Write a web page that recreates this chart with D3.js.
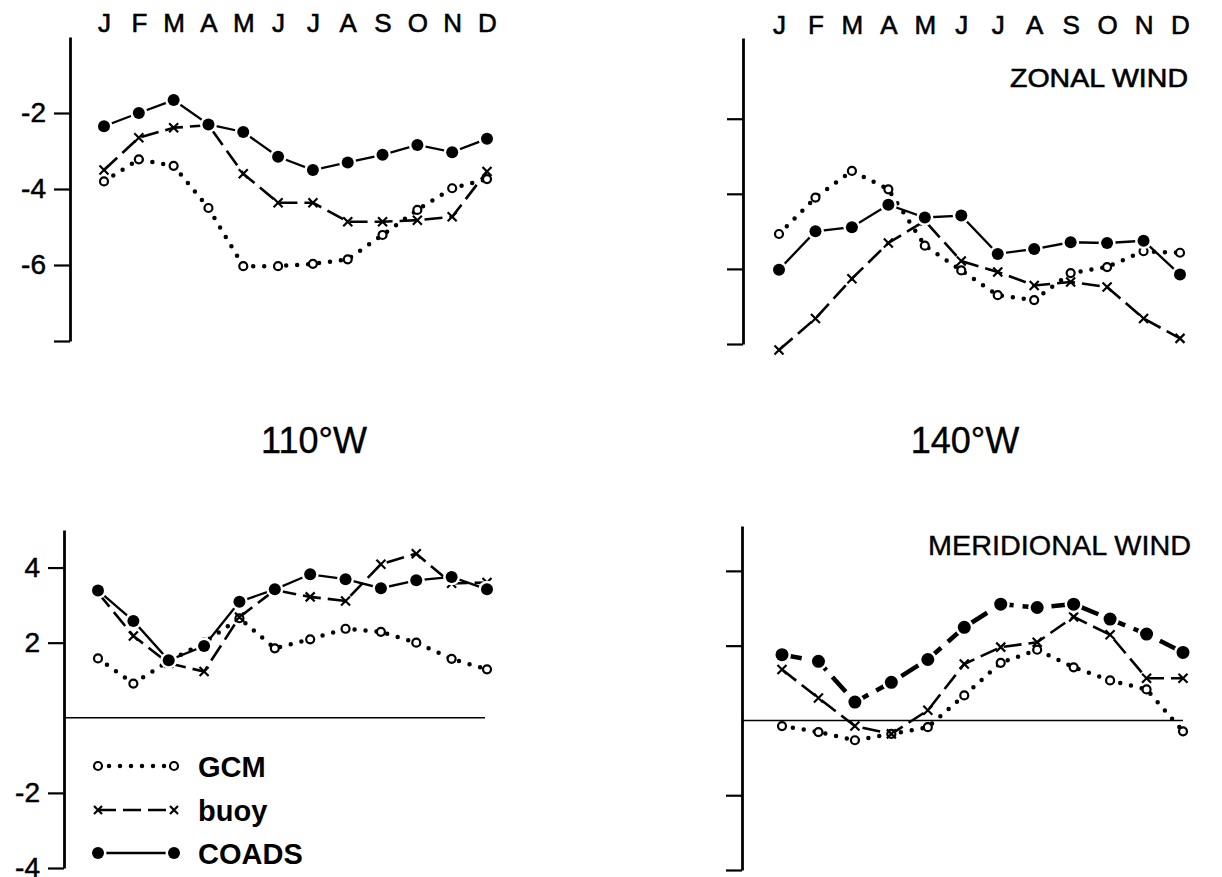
<!DOCTYPE html>
<html>
<head>
<meta charset="utf-8">
<script src="https://cdn.jsdelivr.net/npm/d3@7"></script>
<style>
  body { margin: 0; background: #fff; }
  svg { display: block; font-family: "Liberation Sans", Arial, sans-serif; }
</style>
</head>
<body>
<div id="chart"></div>
<script>
// months (top labels)
const months = ["J", "F", "M", "A", "M", "J", "J", "A", "S", "O", "N", "D"];

// zonal wind, 110W
const zonal110_gcm   = [-3.8, -3.22, -3.39, -4.5, -6.03, -6.03, -5.97, -5.85, -5.21, -4.55, -3.98, -3.74];
const zonal110_buoy  = [-3.5, -2.65, -2.39, -2.32, -3.6, -4.36, -4.36, -4.86, -4.86, -4.82, -4.73, -3.54];
const zonal110_coads = [-2.35, -2.0, -1.66, -2.3, -2.5, -3.15, -3.5, -3.3, -3.1, -2.84, -3.03, -2.68];

// zonal wind, 140W
const zonal140_gcm   = [-5.07, -4.1, -3.39, -3.88, -5.38, -6.04, -6.7, -6.83, -6.11, -5.95, -5.53, -5.57];
const zonal140_buoy  = [-8.16, -7.32, -6.26, -5.31, -4.72, -5.79, -6.08, -6.44, -6.35, -6.48, -7.32, -7.85];
const zonal140_coads = [-6.02, -5.0, -4.89, -4.29, -4.63, -4.58, -5.6, -5.47, -5.29, -5.31, -5.25, -6.15];

// meridional wind, 110W
const merid110_gcm   = [1.58, 0.91, 1.51, 2.0, 2.65, 1.85, 2.09, 2.37, 2.29, 2.0, 1.57, 1.29];
const merid110_buoy  = [3.33, 2.18, 1.45, 1.23, 2.68, 3.4, 3.22, 3.11, 4.09, 4.37, 3.58, 3.6];
const merid110_coads = [3.39, 2.58, 1.53, 1.91, 3.09, 3.42, 3.82, 3.69, 3.45, 3.66, 3.75, 3.42];

// meridional wind, 140W
const merid140_gcm   = [-0.15, -0.31, -0.53, -0.36, -0.18, 0.67, 1.54, 1.89, 1.42, 1.07, 0.83, -0.29];
const merid140_buoy  = [1.36, 0.6, -0.15, -0.36, 0.27, 1.51, 1.96, 2.09, 2.77, 2.29, 1.13, 1.13];
const merid140_coads = [1.76, 1.58, 0.49, 1.02, 1.63, 2.49, 3.11, 3.02, 3.11, 2.71, 2.31, 1.82];

const zonalTicks = [-2, -4, -6, -8];
const meridTicks = [4, 2, -2, -4];

const width = 1222, height = 877;

const svg = d3.select("#chart").append("svg")
    .attr("width", width)
    .attr("height", height);

// panel layout
const panels = [
    { axisX: 70,  xr: [104, 487],  dom: [-8, 0],   yr: [341, 37],  ticks: zonalTicks, labels: true,
      gcm: zonal110_gcm, buoy: zonal110_buoy, coads: zonal110_coads, monthY: 32 },
    { axisX: 743, xr: [779, 1180], dom: [-8, 0.15], yr: [344, 38], ticks: zonalTicks, labels: false,
      gcm: zonal140_gcm, buoy: zonal140_buoy, coads: zonal140_coads, monthY: 34 },
    { axisX: 64,  xr: [98, 487],   dom: [-4, 5],   yr: [868, 530], ticks: meridTicks, labels: true, zero: 485,
      gcm: merid110_gcm, buoy: merid110_buoy, coads: merid110_coads },
    { axisX: 742, xr: [782, 1183], dom: [-4, 5.2], yr: [870, 526], ticks: meridTicks, labels: false, zero: 1183,
      gcm: merid140_gcm, buoy: merid140_buoy, coads: merid140_coads, coadsDash: "20,9", coadsWidth: 4.5, big: true }
];

function drawCircle(g, x, y, r, filled) {
    if (filled) {
        // white halo leaves a small gap where the line meets the dot
        g.append("circle").attr("cx", x).attr("cy", y).attr("r", r + 2.5).attr("fill", "#fff");
        g.append("circle").attr("cx", x).attr("cy", y).attr("r", r).attr("fill", "#000");
    } else {
        g.append("circle")
            .attr("cx", x).attr("cy", y).attr("r", r)
            .attr("fill", "#fff")
            .attr("stroke", "#000")
            .attr("stroke-width", 2.2);
    }
}

function drawCross(g, x, y, s) {
    g.append("path")
        .attr("d", `M${x - s},${y - s}L${x + s},${y + s}M${x - s},${y + s}L${x + s},${y - s}`)
        .attr("stroke", "#000")
        .attr("stroke-width", 2.2)
        .attr("fill", "none");
}

panels.forEach(p => {
    const x = d3.scalePoint().domain(d3.range(12)).range(p.xr);
    const y = d3.scaleLinear().domain(p.dom).range(p.yr);
    const g = svg.append("g");

    // left axis
    const axis = d3.axisLeft(y)
        .tickValues(p.ticks)
        .tickSize(16)
        .tickSizeOuter(0)
        .tickPadding(8)
        .tickFormat(d => (p.labels && d !== -8) ? String(d) : "");
    const ag = g.append("g")
        .attr("transform", `translate(${p.axisX},0)`)
        .call(axis);
    ag.select(".domain").attr("stroke-width", 2.8);
    ag.selectAll(".tick line").attr("stroke-width", 2.2);
    ag.selectAll(".tick text")
        .attr("font-size", 28)
        .attr("font-family", "Liberation Sans, Arial, sans-serif")
        .attr("fill", "#000")
        .attr("stroke", "#000")
        .attr("stroke-width", 0.5);

    // zero line
    if (p.zero) {
        g.append("line")
            .attr("x1", p.axisX).attr("x2", p.zero)
            .attr("y1", y(0)).attr("y2", y(0))
            .attr("stroke", "#000").attr("stroke-width", 1.6);
    }

    // month labels on top
    if (p.monthY) {
        const top = d3.axisTop(x).tickSize(0).tickPadding(0).tickFormat(i => months[i]);
        const tg = g.append("g")
            .attr("transform", `translate(0,${p.monthY})`)
            .call(top);
        tg.select(".domain").remove();
        tg.selectAll("text")
            .attr("font-size", 26)
            .attr("font-family", "Liberation Sans, Arial, sans-serif")
            .attr("fill", "#000")
            .attr("stroke", "#000")
            .attr("stroke-width", 0.6);
    }

    const line = d3.line().x((d, i) => x(i)).y(d => y(d));

    // GCM dotted
    g.append("path").datum(p.gcm)
        .attr("d", line)
        .attr("fill", "none")
        .attr("stroke", "#000")
        .attr("stroke-width", 4.5)
        .attr("stroke-linecap", "round")
        .attr("stroke-dasharray", "0,11");

    // buoy dashed
    g.append("path").datum(p.buoy)
        .attr("d", line)
        .attr("fill", "none")
        .attr("stroke", "#000")
        .attr("stroke-width", 2.6)
        .attr("stroke-dasharray", "18,7");

    // COADS
    g.append("path").datum(p.coads)
        .attr("d", line)
        .attr("fill", "none")
        .attr("stroke", "#000")
        .attr("stroke-width", p.coadsWidth || 2.3)
        .attr("stroke-dasharray", p.coadsDash || null);

    p.gcm.forEach((v, i) => drawCircle(g, x(i), y(v), 4, false));
    p.buoy.forEach((v, i) => drawCross(g, x(i), y(v), 4.5));
    p.coads.forEach((v, i) => drawCircle(g, x(i), y(v), p.big ? 6.5 : 6, true));
});

// station labels
svg.append("text").attr("x", 314).attr("y", 453)
    .attr("text-anchor", "middle").attr("font-size", 36)
    .attr("stroke", "#000").attr("stroke-width", 0.4)
    .text("110°W");
svg.append("text").attr("x", 965).attr("y", 453)
    .attr("text-anchor", "middle").attr("font-size", 36)
    .attr("stroke", "#000").attr("stroke-width", 0.4)
    .text("140°W");

// panel titles
svg.append("text").attr("x", 1188).attr("y", 87)
    .attr("text-anchor", "end").attr("font-size", 26)
    .attr("stroke", "#000").attr("stroke-width", 0.6)
    .attr("textLength", 178).attr("lengthAdjust", "spacingAndGlyphs")
    .text("ZONAL WIND");
svg.append("text").attr("x", 1191).attr("y", 555)
    .attr("text-anchor", "end").attr("font-size", 28)
    .attr("stroke", "#000").attr("stroke-width", 0.4)
    .attr("textLength", 263).attr("lengthAdjust", "spacingAndGlyphs")
    .text("MERIDIONAL WIND");

// legend
const legend = [
    { name: "GCM",   y: 766, dash: "0,11", w: 4.5, cap: "round", mark: "open" },
    { name: "buoy",  y: 810, dash: "18,7", w: 2.6, cap: "butt", mark: "cross" },
    { name: "COADS", y: 853, dash: null,   w: 2.3, cap: "butt", mark: "filled" }
];
const lg = svg.append("g");
legend.forEach(d => {
    lg.append("line")
        .attr("x1", 98).attr("x2", 174)
        .attr("y1", d.y).attr("y2", d.y)
        .attr("stroke", "#000")
        .attr("stroke-width", d.w)
        .attr("stroke-linecap", d.cap)
        .attr("stroke-dasharray", d.dash);
    [98, 174].forEach(cx => {
        if (d.mark === "open") drawCircle(lg, cx, d.y, 4, false);
        else if (d.mark === "cross") drawCross(lg, cx, d.y, 4);
        else drawCircle(lg, cx, d.y, 6, true);
    });
    lg.append("text")
        .attr("x", 198).attr("y", d.y + 11)
        .attr("font-size", 29)
        .attr("font-weight", "bold")
        .text(d.name);
});
</script>
</body>
</html>
